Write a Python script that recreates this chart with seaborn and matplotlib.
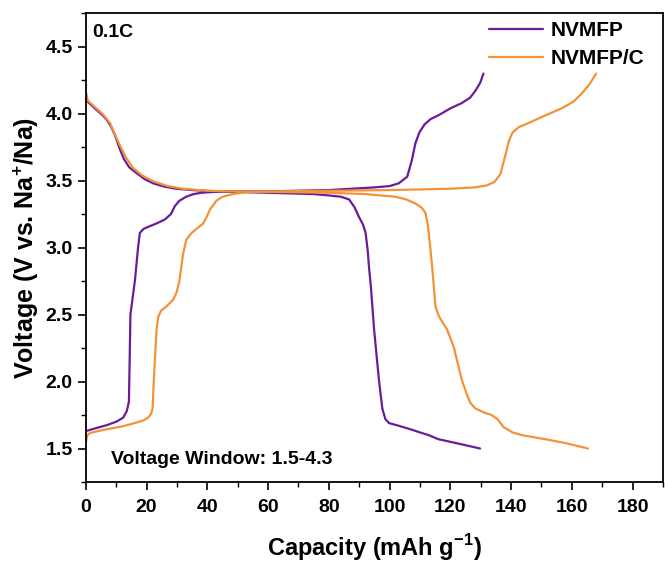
import matplotlib
matplotlib.use("Agg")
import matplotlib.pyplot as plt
import seaborn as sns
import pandas as pd
from matplotlib.ticker import MultipleLocator
from matplotlib.font_manager import FontProperties

sns.set_theme(style="ticks")
plt.rcParams['font.family'] = ['Liberation Sans', 'DejaVu Sans']
plt.rcParams['font.weight'] = 'bold'
plt.rcParams['axes.labelweight'] = 'bold'
plt.rcParams['text.color'] = 'black'
plt.rcParams['axes.labelcolor'] = 'black'
plt.rcParams['xtick.color'] = 'black'
plt.rcParams['ytick.color'] = 'black'
plt.rcParams['mathtext.fontset'] = 'custom'
plt.rcParams['mathtext.rm'] = 'Liberation Sans:bold'
plt.rcParams['mathtext.bf'] = 'Liberation Sans:bold'

# NVMFP charge
nvmfp_charge_cap = [0, 3, 7, 10, 12.3, 13.5, 14.2, 14.7, 16.2, 17.2, 17.8, 19, 21, 23.2, 26, 28, 29.3, 30.8, 33, 35.5, 38, 45, 60, 80, 95, 100, 103, 105.8, 107.3, 108.5, 109.8, 111.5, 113.5, 116.2, 120, 123.8, 126.5, 128.2, 129.8, 130.9]
nvmfp_charge_v = [1.63, 1.65, 1.675, 1.70, 1.73, 1.78, 1.85, 2.50, 2.76, 3.00, 3.11, 3.14, 3.16, 3.18, 3.21, 3.25, 3.31, 3.35, 3.38, 3.40, 3.41, 3.42, 3.42, 3.43, 3.45, 3.46, 3.48, 3.53, 3.65, 3.78, 3.86, 3.92, 3.96, 3.99, 4.04, 4.08, 4.12, 4.17, 4.23, 4.30]
# NVMFP discharge
nvmfp_dis_cap = [0, 0.6, 3, 5.5, 6.9, 8.2, 9.6, 11.3, 12.6, 14.3, 16.7, 19.5, 22.2, 26, 29.8, 35, 43, 60, 75, 80, 84, 86.7, 88.5, 89.9, 91.3, 92.1, 92.8, 93.2, 93.8, 94.9, 96.5, 97.6, 98.6, 99.8, 103, 107.4, 110, 112.9, 116, 119, 124, 129.8]
nvmfp_dis_v = [4.15, 4.09, 4.04, 3.99, 3.955, 3.91, 3.84, 3.73, 3.66, 3.60, 3.557, 3.51, 3.48, 3.455, 3.44, 3.43, 3.42, 3.41, 3.40, 3.39, 3.38, 3.36, 3.30, 3.23, 3.17, 3.11, 2.98, 2.86, 2.72, 2.39, 2.01, 1.80, 1.72, 1.69, 1.67, 1.64, 1.62, 1.60, 1.57, 1.555, 1.53, 1.50]
# NVMFP/C charge
c_charge_cap = [0, 0.5, 1.5, 6, 12, 15.6, 19, 20.5, 21.5, 22, 22.4, 23.3, 23.8, 24.8, 26.5, 28.7, 29.8, 30.8, 32, 33.1, 34.8, 37, 38.6, 39.8, 41, 43, 45, 48.4, 53, 60, 80, 100, 120, 128, 132, 134.5, 136.5, 138, 139.3, 140.5, 142.5, 145.7, 150.5, 156.6, 160.5, 163.2, 165.8, 168]
c_charge_v = [1.54, 1.60, 1.617, 1.64, 1.665, 1.687, 1.71, 1.73, 1.76, 1.80, 2.015, 2.39, 2.48, 2.53, 2.56, 2.61, 2.66, 2.75, 2.95, 3.06, 3.11, 3.15, 3.18, 3.23, 3.29, 3.35, 3.38, 3.40, 3.415, 3.42, 3.425, 3.43, 3.44, 3.45, 3.465, 3.49, 3.55, 3.68, 3.80, 3.86, 3.90, 3.93, 3.98, 4.04, 4.09, 4.15, 4.22, 4.30]
# NVMFP/C discharge
c_dis_cap = [0, 0.6, 3, 5.5, 8, 9.5, 11.3, 13.3, 15.6, 18.5, 22.2, 27, 32, 40, 48.4, 65, 80, 92, 102, 105.5, 108.5, 110.5, 111.8, 112.5, 112.9, 114, 114.6, 115.1, 116.2, 117.5, 118.9, 121.1, 122.5, 123.8, 125.5, 126.6, 128.2, 131, 133.6, 135.5, 137.5, 140.5, 143.5, 151.1, 158, 165.3]
c_dis_v = [4.17, 4.10, 4.05, 4.00, 3.93, 3.85, 3.76, 3.67, 3.595, 3.54, 3.495, 3.46, 3.44, 3.425, 3.42, 3.415, 3.41, 3.40, 3.38, 3.36, 3.33, 3.30, 3.26, 3.18, 3.11, 2.86, 2.70, 2.56, 2.49, 2.44, 2.39, 2.26, 2.13, 2.01, 1.90, 1.84, 1.80, 1.77, 1.75, 1.72, 1.66, 1.62, 1.60, 1.57, 1.54, 1.50]

series_names = ["NVMFP", "NVMFP/C"]
colors = {"NVMFP": "#6A1B9A", "NVMFP/C": "#F39237"}

frames = []
for name, seg, cap, v in [("NVMFP", "charge", nvmfp_charge_cap, nvmfp_charge_v),
                          ("NVMFP", "discharge", nvmfp_dis_cap, nvmfp_dis_v),
                          ("NVMFP/C", "charge", c_charge_cap, c_charge_v),
                          ("NVMFP/C", "discharge", c_dis_cap, c_dis_v)]:
    frames.append(pd.DataFrame({"cap": cap, "v": v, "sample": name, "seg": seg}))
df = pd.concat(frames, ignore_index=True)

fig = plt.figure(figsize=(6.65, 5.64), dpi=100)
ax = fig.add_axes([0.129, 0.1454, 0.868, 0.831])

handles = []
for name in series_names:
    for seg in ["charge", "discharge"]:
        d = df[(df["sample"] == name) & (df["seg"] == seg)]
        sns.lineplot(data=d, x="cap", y="v", ax=ax, color=colors[name], lw=1.6,
                     sort=False, estimator=None, legend=False)
        if seg == "charge":
            handles.append(ax.get_lines()[-1])

ax.set_xlim(0, 190)
ax.set_ylim(1.25, 4.75)
ax.xaxis.set_major_locator(MultipleLocator(20))
ax.xaxis.set_minor_locator(MultipleLocator(10))
ax.yaxis.set_major_locator(MultipleLocator(0.5))
ax.yaxis.set_minor_locator(MultipleLocator(0.25))
ax.set_xticks(list(range(0, 181, 20)))
ax.set_xticklabels([str(t) for t in range(0, 181, 20)])
ax.tick_params(axis='both', which='major', direction='out', length=6, width=1.2, labelsize=14, color='black', labelcolor='black')
ax.tick_params(axis='x', which='major', pad=6)
ax.tick_params(axis='both', which='minor', direction='out', length=3.5, width=1.0, color='black')
for lab in ax.get_xticklabels() + ax.get_yticklabels():
    lab.set_fontweight('bold')
for sp in ax.spines.values():
    sp.set_linewidth(1.3)
    sp.set_color('black')

ax.set_xlabel("Capacity (mAh g$^{-1}$)", fontsize=17, fontweight='bold', labelpad=12, color='black')
ax.set_ylabel("Voltage (V vs. Na$^{+}$/Na)", fontsize=18, fontweight='bold', labelpad=3, color='black')

ax.text(0.012, 0.978, "0.1C", transform=ax.transAxes, fontsize=14, fontweight='bold', va='top', ha='left', color='black')
ax.text(0.043, 0.047, "Voltage Window: 1.5-4.3", transform=ax.transAxes, fontsize=14, fontweight='bold', va='center', ha='left', color='black')

fp = FontProperties(family='Liberation Sans', weight='bold', size=15)
leg = ax.legend(handles, series_names, loc='upper right', bbox_to_anchor=(1.0, 1.024), frameon=False,
                prop=fp, handlelength=2.6, handletextpad=0.35, labelspacing=0.45)
for t in leg.get_texts():
    t.set_color('black')

fig.savefig("out.png", dpi=100)
